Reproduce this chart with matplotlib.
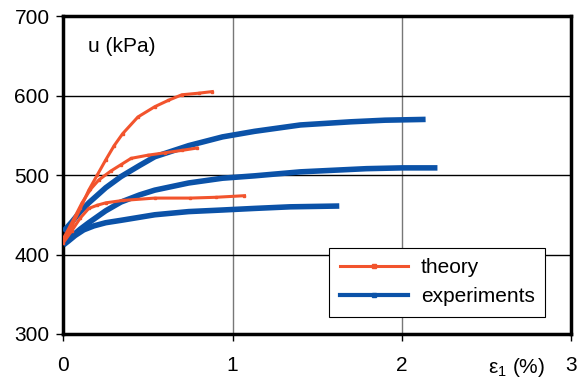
"""Pore pressure u vs axial strain: theory vs experiments."""
import matplotlib
matplotlib.use("Agg")
import matplotlib.pyplot as plt
from matplotlib.lines import Line2D

# theory curves (strain %, u kPa)
TH1_X = [0.0, 0.05, 0.10, 0.15, 0.20, 0.25, 0.30, 0.35, 0.44, 0.54, 0.62, 0.70, 0.80, 0.88]
TH1_Y = [418, 436, 458, 481, 500, 519, 537, 552, 573, 586, 594, 601, 603, 605]
TH2_X = [0.0, 0.05, 0.11, 0.16, 0.21, 0.28, 0.34, 0.40, 0.50, 0.60, 0.70, 0.79]
TH2_Y = [420, 440, 465, 482, 494, 505, 513, 521, 525, 528, 531, 534]
TH3_X = [0.0, 0.05, 0.10, 0.15, 0.20, 0.25, 0.35, 0.54, 0.75, 0.90, 1.07]
TH3_Y = [415, 430, 446, 458, 462, 465, 468, 471, 471, 472, 474]

# experimental curves
EX1_X = [0.0, 0.05, 0.10, 0.15, 0.25, 0.34, 0.45, 0.54, 0.74, 0.94, 1.13, 1.40, 1.70, 1.90, 2.14]
EX1_Y = [429, 441, 454, 465, 484, 498, 512, 523, 537, 548, 555, 563, 567, 569, 570]
EX2_X = [0.0, 0.05, 0.10, 0.15, 0.25, 0.34, 0.45, 0.54, 0.74, 0.94, 1.13, 1.40, 1.79, 2.00, 2.21]
EX2_Y = [414, 423, 432, 440, 455, 466, 475, 481, 490, 496, 499, 504, 508, 509, 509]
EX3_X = [0.0, 0.03, 0.07, 0.12, 0.18, 0.25, 0.34, 0.54, 0.74, 0.94, 1.13, 1.34, 1.63]
EX3_Y = [412, 417, 424, 431, 436, 440, 443, 450, 454, 456, 458, 460, 461]

RED = "#F2542D"
BLUE = "#0B52A8"
FS = 15

plt.rcParams["font.family"] = ["Liberation Sans", "DejaVu Sans"]
plt.rcParams["mathtext.fontset"] = "custom"
plt.rcParams["mathtext.rm"] = "Liberation Sans"

fig = plt.figure(figsize=(5.87, 3.83), dpi=100)
ax = fig.add_axes([0.108, 0.128, 0.865, 0.830])

for x, y in [(EX1_X, EX1_Y), (EX2_X, EX2_Y), (EX3_X, EX3_Y)]:
    ax.plot(x, y, color=BLUE, lw=4, solid_capstyle="butt", zorder=3)
for x, y in [(TH1_X, TH1_Y), (TH2_X, TH2_Y), (TH3_X, TH3_Y)]:
    ax.plot(x, y, color=RED, lw=2.2, marker="s", ms=2, zorder=4)

ax.set_xlim(0, 3)
ax.set_ylim(300, 700)
ax.set_xticks([0, 1, 2, 3])
ax.set_yticks([300, 400, 500, 600, 700])
ax.tick_params(labelsize=FS, length=5, width=1, direction="out", pad=11)
ax.tick_params(axis="y", pad=5)
for x in [1, 2]:
    ax.axvline(x, color="#777777", lw=1, zorder=1)
for y in [400, 500, 600]:
    ax.axhline(y, color="black", lw=1, zorder=1)
for s in ax.spines.values():
    s.set_linewidth(2.5)

ax.text(0.145, 662, "u (kPa)", fontsize=FS, va="center", ha="left")
ax.annotate("ε$_\\mathregular{1}$ (%)", xy=(2.68, 300), xytext=(0, -16),
            textcoords="offset points", fontsize=FS, va="top", ha="center",
            annotation_clip=False)

handles = [Line2D([0], [0], color=RED, lw=2.2, marker="s", ms=2.5, label="theory"),
           Line2D([0], [0], color=BLUE, lw=3, marker="s", ms=2.5, label="experiments")]
leg = ax.legend(handles=handles, loc="lower right", bbox_to_anchor=(0.949, 0.054),
                borderaxespad=0, fontsize=FS, frameon=True, fancybox=False,
                edgecolor="black", handlelength=3.3, handletextpad=0.6,
                borderpad=0.5, labelspacing=0.5, framealpha=1)
leg.get_frame().set_linewidth(0.8)

fig.savefig("out.png", dpi=100)
